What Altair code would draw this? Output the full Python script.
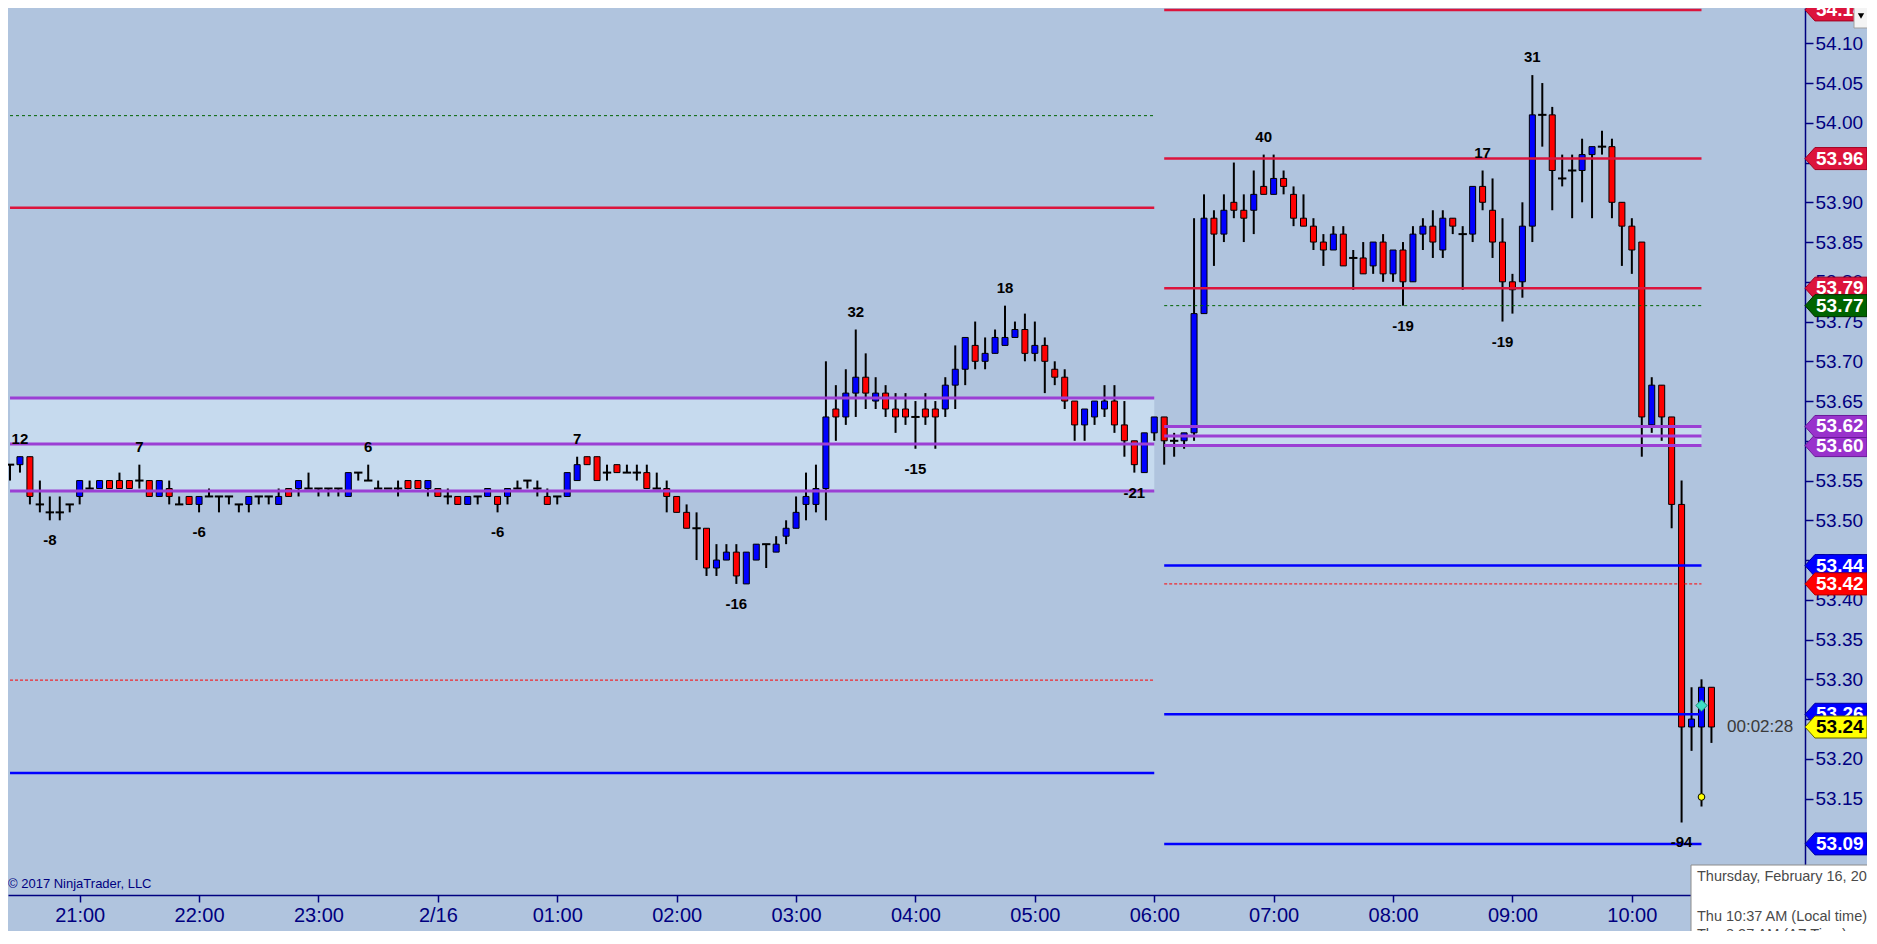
import altair as alt
import pandas as pd

# 5 minute bars, 20:25 -> 10:40 (bar number = position on the x axis)
opens = [
    53.57, 53.57, 53.58, 53.52, 53.51, 53.51, 53.52, 53.53, 53.54, 53.54,
    53.55, 53.55, 53.55, 53.55, 53.55, 53.53, 53.54, 53.52, 53.53, 53.52,
    53.53, 53.53, 53.53, 53.52, 53.52, 53.53, 53.53, 53.52, 53.54, 53.54,
    53.54, 53.54, 53.54, 53.54, 53.53, 53.56, 53.55, 53.54, 53.54, 53.54,
    53.55, 53.55, 53.54, 53.54, 53.53, 53.53, 53.52, 53.53, 53.53, 53.53,
    53.53, 53.54, 53.55, 53.54, 53.53, 53.53, 53.53, 53.55, 53.58, 53.58,
    53.56, 53.57, 53.56, 53.56, 53.56, 53.54, 53.54, 53.53, 53.51, 53.49,
    53.49, 53.44, 53.45, 53.46, 53.42, 53.45, 53.47, 53.46, 53.48, 53.49,
    53.52, 53.52, 53.54, 53.64, 53.63, 53.66, 53.68, 53.65, 53.66, 53.64,
    53.64, 53.63, 53.64, 53.64, 53.64, 53.67, 53.69, 53.72, 53.70, 53.71,
    53.72, 53.73, 53.74, 53.71, 53.72, 53.69, 53.68, 53.65, 53.62, 53.63,
    53.64, 53.65, 53.62, 53.60, 53.56, 53.61, 53.63, 53.60, 53.60, 53.61,
    53.76, 53.88, 53.86, 53.90, 53.89, 53.89, 53.92, 53.91, 53.93, 53.91,
    53.88, 53.87, 53.85, 53.84, 53.86, 53.83, 53.83, 53.82, 53.85, 53.81,
    53.84, 53.80, 53.86, 53.87, 53.84, 53.88, 53.86, 53.86, 53.92, 53.89,
    53.85, 53.80, 53.80, 53.87, 54.01, 54.01, 53.93, 53.94, 53.94, 53.96,
    53.97, 53.97, 53.90, 53.87, 53.85, 53.62, 53.67, 53.63, 53.52, 53.24,
    53.24, 53.29,
]
highs = [
    53.57, 53.58, 53.58, 53.55, 53.53, 53.53, 53.52, 53.55, 53.55, 53.55,
    53.55, 53.56, 53.55, 53.57, 53.55, 53.55, 53.55, 53.53, 53.53, 53.53,
    53.54, 53.53, 53.53, 53.52, 53.53, 53.53, 53.53, 53.54, 53.54, 53.55,
    53.56, 53.54, 53.54, 53.54, 53.56, 53.56, 53.57, 53.55, 53.54, 53.55,
    53.55, 53.55, 53.55, 53.54, 53.54, 53.53, 53.53, 53.53, 53.54, 53.53,
    53.54, 53.55, 53.55, 53.55, 53.54, 53.53, 53.56, 53.58, 53.58, 53.58,
    53.57, 53.57, 53.57, 53.57, 53.57, 53.56, 53.55, 53.53, 53.52, 53.51,
    53.49, 53.47, 53.47, 53.47, 53.46, 53.47, 53.47, 53.48, 53.50, 53.53,
    53.56, 53.57, 53.70, 53.67, 53.69, 53.74, 53.71, 53.68, 53.67, 53.66,
    53.66, 53.65, 53.66, 53.65, 53.68, 53.72, 53.73, 53.75, 53.73, 53.74,
    53.77, 53.75, 53.76, 53.75, 53.73, 53.70, 53.69, 53.65, 53.64, 53.65,
    53.67, 53.67, 53.65, 53.60, 53.61, 53.63, 53.63, 53.61, 53.61, 53.88,
    53.91, 53.89, 53.91, 53.95, 53.91, 53.94, 53.96, 53.96, 53.94, 53.92,
    53.91, 53.88, 53.86, 53.87, 53.87, 53.84, 53.85, 53.85, 53.86, 53.84,
    53.85, 53.87, 53.88, 53.89, 53.89, 53.88, 53.87, 53.92, 53.94, 53.93,
    53.88, 53.81, 53.90, 54.06, 54.05, 54.02, 53.96, 53.96, 53.98, 53.97,
    53.99, 53.98, 53.90, 53.88, 53.85, 53.68, 53.67, 53.63, 53.55, 53.29,
    53.30, 53.29,
]
lows = [
    53.55, 53.56, 53.52, 53.51, 53.50, 53.50, 53.51, 53.52, 53.54, 53.54,
    53.54, 53.54, 53.54, 53.54, 53.53, 53.53, 53.52, 53.52, 53.52, 53.51,
    53.53, 53.51, 53.52, 53.51, 53.51, 53.52, 53.52, 53.52, 53.53, 53.53,
    53.54, 53.53, 53.53, 53.53, 53.53, 53.55, 53.55, 53.54, 53.54, 53.53,
    53.54, 53.54, 53.53, 53.53, 53.52, 53.52, 53.52, 53.52, 53.53, 53.51,
    53.52, 53.54, 53.54, 53.53, 53.52, 53.52, 53.53, 53.55, 53.57, 53.55,
    53.55, 53.56, 53.56, 53.55, 53.54, 53.54, 53.51, 53.51, 53.49, 53.45,
    53.43, 53.43, 53.45, 53.42, 53.42, 53.45, 53.44, 53.46, 53.47, 53.49,
    53.50, 53.51, 53.50, 53.60, 53.62, 53.63, 53.64, 53.64, 53.63, 53.61,
    53.62, 53.59, 53.62, 53.59, 53.63, 53.64, 53.67, 53.69, 53.69, 53.71,
    53.72, 53.73, 53.70, 53.70, 53.66, 53.67, 53.64, 53.60, 53.60, 53.62,
    53.63, 53.61, 53.58, 53.56, 53.56, 53.60, 53.57, 53.58, 53.59, 53.60,
    53.76, 53.82, 53.85, 53.88, 53.85, 53.86, 53.91, 53.91, 53.91, 53.87,
    53.87, 53.84, 53.82, 53.84, 53.82, 53.79, 53.81, 53.81, 53.80, 53.80,
    53.77, 53.80, 53.84, 53.83, 53.83, 53.86, 53.79, 53.85, 53.89, 53.83,
    53.75, 53.76, 53.78, 53.85, 53.97, 53.89, 53.92, 53.88, 53.90, 53.88,
    53.96, 53.88, 53.82, 53.81, 53.58, 53.61, 53.60, 53.49, 53.12, 53.21,
    53.14, 53.22,
]
closes = [
    53.57, 53.58, 53.53, 53.52, 53.51, 53.51, 53.52, 53.55, 53.54, 53.55,
    53.54, 53.54, 53.54, 53.55, 53.53, 53.55, 53.53, 53.52, 53.52, 53.53,
    53.53, 53.53, 53.53, 53.52, 53.53, 53.53, 53.53, 53.53, 53.53, 53.55,
    53.54, 53.54, 53.54, 53.54, 53.56, 53.56, 53.55, 53.54, 53.54, 53.54,
    53.54, 53.54, 53.55, 53.53, 53.53, 53.52, 53.53, 53.53, 53.54, 53.52,
    53.54, 53.54, 53.55, 53.54, 53.52, 53.53, 53.56, 53.57, 53.57, 53.55,
    53.56, 53.56, 53.56, 53.56, 53.54, 53.54, 53.53, 53.51, 53.49, 53.49,
    53.44, 53.45, 53.46, 53.43, 53.46, 53.47, 53.47, 53.47, 53.49, 53.51,
    53.53, 53.54, 53.63, 53.63, 53.66, 53.68, 53.66, 53.66, 53.64, 53.63,
    53.63, 53.63, 53.63, 53.63, 53.67, 53.69, 53.73, 53.70, 53.71, 53.73,
    53.73, 53.74, 53.71, 53.72, 53.70, 53.68, 53.65, 53.62, 53.64, 53.65,
    53.65, 53.62, 53.60, 53.57, 53.61, 53.63, 53.60, 53.60, 53.61, 53.76,
    53.88, 53.86, 53.89, 53.89, 53.88, 53.91, 53.91, 53.93, 53.92, 53.88,
    53.87, 53.85, 53.84, 53.86, 53.82, 53.83, 53.81, 53.85, 53.81, 53.84,
    53.80, 53.86, 53.87, 53.85, 53.88, 53.87, 53.86, 53.92, 53.90, 53.85,
    53.80, 53.79, 53.87, 54.01, 54.01, 53.94, 53.93, 53.94, 53.96, 53.97,
    53.97, 53.90, 53.87, 53.84, 53.63, 53.67, 53.63, 53.52, 53.24, 53.25,
    53.29, 53.24,
]

# time axis: bar number of each hour tick
tick_bars = [7, 19, 31, 43, 55, 67, 79, 91, 103, 115, 127, 139, 151, 163]
tick_labels = ["21:00", "22:00", "23:00", "2/16", "01:00", "02:00", "03:00",
               "04:00", "05:00", "06:00", "07:00", "08:00", "09:00", "10:00"]
price_ticks = [53.15, 53.20, 53.25, 53.30, 53.35, 53.40, 53.45, 53.50, 53.55,
               53.60, 53.65, 53.70, 53.75, 53.80, 53.85, 53.90, 53.95, 54.00,
               54.05, 54.10]

# swing counts
swing_high_bars = [1, 13, 36, 57, 85, 100, 126, 148, 153]
swing_high_text = ["12", "7", "6", "7", "32", "18", "40", "17", "31"]
swing_low_bars = [4, 19, 49, 73, 91, 113, 140, 150, 168]
swing_low_text = ["-8", "-6", "-6", "-16", "-15", "-21", "-19", "-19", "-94"]

# level lines: overnight session and day session
overnight_span = [0, 115]
overnight_levels = [54.009, 53.893, 53.654, 53.596, 53.537, 53.299, 53.182]
overnight_kinds = ["green_dot", "crimson", "purple", "purple", "purple", "red_dot", "blue"]
overnight_band = [53.537, 53.654]
session_span = [116, 170]
session_levels = [54.142, 53.955, 53.792, 53.770, 53.618, 53.606, 53.594,
                  53.443, 53.420, 53.256, 53.093]
session_kinds = ["crimson", "crimson", "crimson", "green_dot", "purple", "purple",
                 "purple", "blue", "red_dot", "blue", "blue"]
session_band = [53.594, 53.618]

# price flags on the right axis (drawn in this order)
flag_prices = [54.142, 53.955, 53.792, 53.770, 53.594, 53.618, 53.443, 53.420,
               53.256, closes[-1], 53.093]
flag_texts = ["54.14", "53.96", "53.79", "53.77", "53.60", "53.62", "53.44",
              "53.42", "53.26", "53.24", "53.09"]
flag_kinds = ["crimson", "crimson", "crimson", "green", "purple", "purple", "blue",
              "red", "blue", "last", "blue"]

marker_bar = 170
ask_marker = 53.267
bid_marker = 53.152
countdown = "00:02:28"
copyright_text = "\u00a9 2017 NinjaTrader, LLC"
tooltip_lines = ["Thursday, February 16, 2017", "Thu 10:37 AM  (Local time)",
                 "Thu 8:37 AM  (AZ Time)"]
tooltip_rows = [869, 909, 927]

BG = "#B0C4DE"
BAND = "#C6DAEE"
NAVY = "#000080"
FONT = "Liberation Sans"
UP, DOWN = "#0000FF", "#FF0000"
W, H = 1797, 887

LINE_STYLES = {
    "crimson": {"color": "#DC143C", "strokeWidth": 2.5},
    "purple": {"color": "#9B3FD4", "strokeWidth": 3},
    "blue": {"color": "#0000FF", "strokeWidth": 2.5},
    "green_dot": {"color": "#006400", "strokeWidth": 1, "strokeDash": [3, 3]},
    "red_dot": {"color": "#FF0000", "strokeWidth": 1, "strokeDash": [3, 2]},
}
FLAG_STYLES = {
    "crimson": ("#DC143C", "#A00020", "white"),
    "green": ("#006400", "#003000", "white"),
    "purple": ("#9932CC", "#6A1A9A", "white"),
    "blue": ("#0000FF", "#0000A0", "white"),
    "red": ("#FF0000", "#B00000", "white"),
    "last": ("#FFFF00", "#606000", "black"),
}
FLAG_PATH = "M-1,0L-0.68,-0.355L1,-0.355L1,0.355L-0.68,0.355Z"

x_scale = alt.Scale(domain=[0.3, 179.9], nice=False, zero=False)
y_scale = alt.Scale(domain=[53.0287, 54.1444], nice=False, zero=False)

label_expr = ("[" + ",".join(f"'{t}'" for t in tick_labels) + "][indexof(["
              + ",".join(str(b) for b in tick_bars) + "], datum.value)]")

x_axis = alt.Axis(values=tick_bars, labelExpr=label_expr, title=None, grid=False,
                  domainColor=NAVY, domainWidth=1.5, tickColor=NAVY, tickSize=7,
                  tickWidth=1.5, labelColor=NAVY, labelFont=FONT, labelFontSize=20,
                  labelPadding=3, labelFlush=False, labelOverlap=False)
y_axis = alt.Axis(orient="right", values=price_ticks, format=".2f", title=None,
                  grid=False, domainColor=NAVY, domainWidth=1.5, tickColor=NAVY,
                  tickSize=8, tickWidth=1.5, labelColor=NAVY, labelFont=FONT,
                  labelFontSize=19, labelPadding=2, labelFlush=False,
                  labelOverlap=False)


def xq(field):
    return alt.X(f"{field}:Q", scale=x_scale, axis=x_axis)


def yq(field):
    return alt.Y(f"{field}:Q", scale=y_scale, axis=y_axis)


bars = pd.DataFrame({"bar": list(range(len(opens))), "open": opens, "high": highs,
                     "low": lows, "close": closes})

bands = pd.DataFrame({"x0": [overnight_span[0], session_span[0]],
                      "x1": [overnight_span[1], session_span[1]],
                      "lo": [overnight_band[0], session_band[0]],
                      "hi": [overnight_band[1], session_band[1]]})

levels = pd.DataFrame({
    "x0": [overnight_span[0]] * len(overnight_levels) + [session_span[0]] * len(session_levels),
    "x1": [overnight_span[1]] * len(overnight_levels) + [session_span[1]] * len(session_levels),
    "price": overnight_levels + session_levels,
    "kind": overnight_kinds + session_kinds,
})

swings_hi = pd.DataFrame({"bar": swing_high_bars,
                          "price": [highs[b] for b in swing_high_bars],
                          "t": swing_high_text})
swings_lo = pd.DataFrame({"bar": swing_low_bars,
                          "price": [lows[b] for b in swing_low_bars],
                          "t": swing_low_text})

layers = []

layers.append(alt.Chart(bands).mark_rect(color=BAND).encode(
    x=xq("x0"), x2="x1:Q", y=yq("lo"), y2="hi:Q"))

# candles
layers.append(alt.Chart(bars).mark_rule(color="black", strokeWidth=2).encode(
    x=xq("bar"), y=yq("low"), y2="high:Q"))
layers.append(alt.Chart(bars).transform_filter("datum.open != datum.close").mark_bar(
    width=6, stroke="black", strokeWidth=1).encode(
    x=xq("bar"), y=yq("open"), y2="close:Q",
    color=alt.condition("datum.close > datum.open", alt.value(UP), alt.value(DOWN))))
layers.append(alt.Chart(bars).transform_filter("datum.open == datum.close").mark_point(
    shape="stroke", size=70, stroke="black", strokeWidth=2, opacity=1).encode(
    x=xq("bar"), y=yq("close")))

# level lines
for kind, style in LINE_STYLES.items():
    layers.append(alt.Chart(levels).transform_filter(alt.datum.kind == kind)
                  .mark_rule(**style).encode(x=xq("x0"), x2="x1:Q", y=yq("price")))

# bid / ask markers on the live bar
markers = pd.DataFrame({"bar": [marker_bar, marker_bar], "price": [ask_marker, bid_marker],
                        "m": ["ask", "bid"]})
layers.append(alt.Chart(markers).transform_filter(alt.datum.m == "ask").mark_point(
    shape="diamond", size=130, filled=True, fill="#3FE0C5", stroke="#1B8A78",
    strokeWidth=1, opacity=1).encode(x=xq("bar"), y=yq("price")))
layers.append(alt.Chart(markers).transform_filter(alt.datum.m == "bid").mark_point(
    shape="circle", size=45, filled=True, fill="#FFFF00", stroke="black",
    strokeWidth=1, opacity=1).encode(x=xq("bar"), y=yq("price")))

# swing counts
layers.append(alt.Chart(swings_hi).mark_text(
    dy=-18, font=FONT, fontSize=15, fontWeight="bold", color="black").encode(
    x=xq("bar"), y=yq("price"), text="t:N"))
layers.append(alt.Chart(swings_lo).mark_text(
    dy=20, font=FONT, fontSize=15, fontWeight="bold", color="black").encode(
    x=xq("bar"), y=yq("price"), text="t:N"))

# bar countdown
layers.append(alt.Chart(pd.DataFrame({"price": [closes[-1]], "t": [countdown]})).mark_text(
    align="left", baseline="middle", font=FONT, fontSize=17, color="#3A3A3A").encode(
    x=alt.value(1719), y=yq("price"), text="t:N"))

# price flags
for price, text, kind in zip(flag_prices, flag_texts, flag_kinds):
    fill, edge, ink = FLAG_STYLES[kind]
    df = pd.DataFrame({"price": [price], "t": [text]})
    layers.append(alt.Chart(df).mark_point(
        shape=FLAG_PATH, size=3844, filled=True, fill=fill, stroke=edge,
        strokeWidth=1, opacity=1).encode(x=alt.value(1828), y=yq("price")))
    layers.append(alt.Chart(df).mark_text(
        align="left", baseline="middle", font=FONT, fontSize=19, fontWeight="bold",
        color=ink).encode(x=alt.value(1808), y=yq("price"), text="t:N"))

# copyright
layers.append(alt.Chart(pd.DataFrame({"t": [copyright_text]})).mark_text(
    align="left", baseline="middle", font=FONT, fontSize=13, color=NAVY).encode(
    x=alt.value(0), y=alt.value(876), text="t:N"))

# hover tooltip box
layers.append(alt.Chart(pd.DataFrame({"a": [0]})).mark_rect(
    fill="white", stroke="#8C8C8C", strokeWidth=1).encode(
    x=alt.value(1683), x2=alt.value(1875), y=alt.value(857), y2=alt.value(940)))
for line, row in zip(tooltip_lines, tooltip_rows):
    layers.append(alt.Chart(pd.DataFrame({"t": [line]})).mark_text(
        align="left", baseline="middle", font=FONT, fontSize=14.5,
        color="#4A4A4A").encode(x=alt.value(1689), y=alt.value(row), text="t:N"))

# dropdown button in the corner
layers.append(alt.Chart(pd.DataFrame({"a": [0]})).mark_rect(
    fill="#F4F4F4", stroke="#A0A0A0", strokeWidth=1).encode(
    x=alt.value(1846), x2=alt.value(1870), y=alt.value(-2), y2=alt.value(20)))
layers.append(alt.Chart(pd.DataFrame({"a": [0]})).mark_point(
    shape="triangle-down", size=40, filled=True, color="black", opacity=1).encode(
    x=alt.value(1853), y=alt.value(8)))

chart = alt.layer(*layers).properties(
    width=W, height=H,
    autosize=alt.AutoSizeParams(type="none"),
    padding={"left": 0, "top": 0, "right": 62, "bottom": 36},
    background=BG,
).configure_view(fill=BG, strokeWidth=0)

chart.save("out.html", embed_options={"renderer": "svg", "actions": False})
